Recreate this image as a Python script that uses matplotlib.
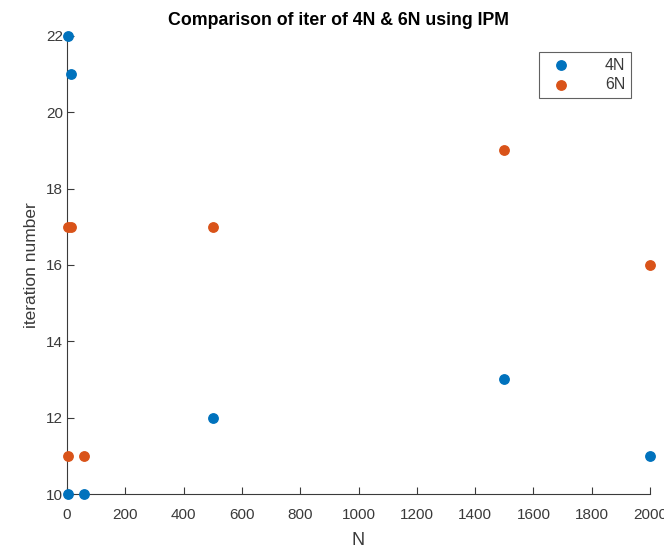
import matplotlib
matplotlib.use('Agg')
import matplotlib.pyplot as plt

plt.rcParams['font.family'] = ['Liberation Sans', 'DejaVu Sans']

n_4n = [2, 12, 2, 58, 500, 1500, 2000]
iter_4n = [22, 21, 10, 10, 12, 13, 11]
n_6n = [2, 12, 2, 58, 500, 1500, 2000]
iter_6n = [17, 17, 11, 11, 17, 19, 16]

blue = '#0072BD'
orange = '#D95319'
axcol = '#3a3a3a'

fig = plt.figure(figsize=(6.64, 5.48), dpi=100)
ax = fig.add_axes([0.101, 0.0985, 0.878, 0.836])

ax.scatter(n_4n, iter_4n, s=46, color=blue, label='4N', clip_on=False, zorder=3)
ax.scatter(n_6n, iter_6n, s=46, color=orange, label='6N', clip_on=False, zorder=3)

ax.set_xlim(0, 2000)
ax.set_ylim(10, 22)
ax.set_xticks(range(0, 2001, 200))
ax.set_yticks(range(10, 23, 2))

for side in ['top', 'right']:
    ax.spines[side].set_visible(False)
for side in ['left', 'bottom']:
    ax.spines[side].set_color(axcol)
    ax.spines[side].set_linewidth(0.8)
ax.tick_params(direction='in', length=5, width=0.8, colors=axcol, labelsize=11)
ax.tick_params(axis='x', pad=10)
ax.tick_params(axis='y', pad=3)

ax.set_xlabel('N', fontsize=13, color=axcol, labelpad=7)
ax.set_ylabel('iteration number', fontsize=12.5, color=axcol, labelpad=5)
ax.set_title('Comparison of iter of 4N & 6N using IPM', fontsize=12.8, fontweight='bold',
             color='black', x=0.465, pad=8)

leg = ax.legend(loc='upper right', bbox_to_anchor=(0.967, 0.965), borderaxespad=0,
                frameon=True, fancybox=False, markerfirst=True, handletextpad=1.75,
                borderpad=0.35, labelspacing=0.3, fontsize=11.5)
leg.get_frame().set_edgecolor(axcol)
leg.get_frame().set_linewidth(0.8)
for t in leg.get_texts():
    t.set_color(axcol)

fig.savefig('out.png', dpi=100)
